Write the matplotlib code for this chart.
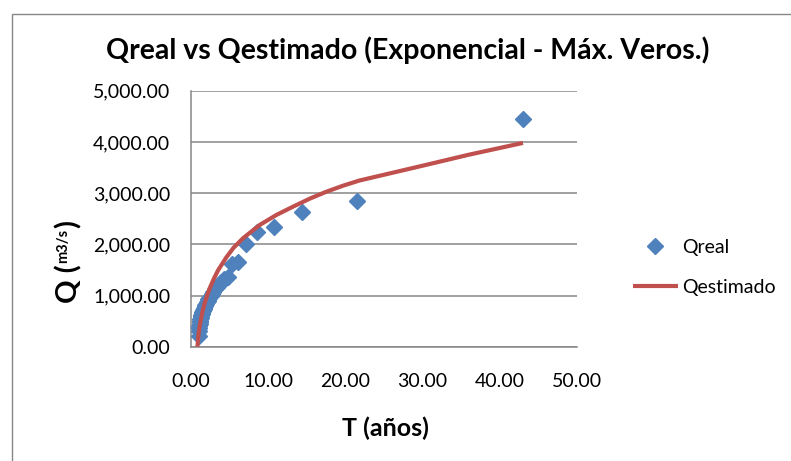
import matplotlib
matplotlib.use("Agg")
from matplotlib import pyplot as plt
from matplotlib.patches import Rectangle
from matplotlib.ticker import FuncFormatter

# observed flows, return period T = (n+1)/m (years), Q in m3/s
t_real = [43.0, 21.5, 14.33, 10.75, 8.6, 7.17, 6.14, 5.375, 4.78, 4.3, 3.91,
          3.58, 3.31, 3.07, 2.87, 2.69, 2.53, 2.39, 2.26, 2.15, 2.05, 1.95,
          1.87, 1.79, 1.72, 1.65, 1.59, 1.54, 1.48, 1.43, 1.39, 1.34, 1.30,
          1.26, 1.23, 1.19, 1.16, 1.13, 1.10, 1.075, 1.049, 1.024]
q_real = [4445, 2846, 2637, 2344, 2246, 2006, 1648, 1609, 1367, 1330, 1270,
          1210, 1160, 1120, 1070, 1030, 1000, 960, 930, 900, 870, 840, 810,
          790, 760, 740, 710, 690, 670, 650, 630, 610, 590, 560, 540, 510,
          480, 450, 410, 370, 300, 200]

# fitted exponential (max likelihood)
t_est = [0.83, 0.9, 1.0, 1.1, 1.25, 1.5, 1.75, 2.0, 2.42, 3.0, 3.5, 4.58,
         5.5, 6.73, 8.89, 11.05, 13.2, 15.36, 17.5, 19.7, 21.8, 30.0, 36.0,
         43.0]
q_est = [0, 110, 270, 380, 510, 690, 840, 960, 1141, 1340, 1490, 1746, 1930,
         2117, 2377, 2572, 2734, 2890, 3025, 3145, 3245, 3535, 3750, 3980]

x_ticks = [0, 10, 20, 30, 40, 50]
y_ticks = [0, 1000, 2000, 3000, 4000, 5000]

plt.rcParams['font.family'] = ['Lato', 'DejaVu Sans']

W, H = 791, 461
fig = plt.figure(figsize=(W / 100, H / 100), dpi=100)
ax = fig.add_axes([191 / W, 1 - 346.7 / H, 386 / W, 256 / H])

grid_c = '#868686'
ax.plot(t_real, q_real, linestyle='none', marker='D', markersize=8,
        color='#4F81BD', label='Qreal', zorder=3)
ax.plot(t_est, q_est, color='#C0504D', linewidth=3, label='Qestimado',
        zorder=4, solid_capstyle='butt', solid_joinstyle='round')

ax.set_xlim(0, 50)
ax.set_ylim(0, 5000)
ax.set_xticks(x_ticks)
ax.set_yticks(y_ticks)
fmt = FuncFormatter(lambda v, p: f'{v:,.2f}')
ax.xaxis.set_major_formatter(fmt)
ax.yaxis.set_major_formatter(fmt)
ax.tick_params(length=0, labelsize=14)
ax.tick_params(axis='x', pad=19)
ax.tick_params(axis='y', pad=15)
ax.grid(axis='y', color=grid_c, linewidth=1.1)
ax.set_axisbelow(True)
for s in ['top', 'right']:
    ax.spines[s].set_visible(False)
for s in ['left', 'bottom']:
    ax.spines[s].set_color(grid_c)
    ax.spines[s].set_linewidth(1.1)

fig.text(408 / W, 1 - 50 / H, 'Qreal vs Qestimado (Exponencial - Máx. Veros.)',
         fontsize=20.5, fontweight='bold', ha='center', va='center')
fig.text(385 / W, 1 - 428 / H, 'T (años)', fontsize=18, fontweight='bold',
         ha='center', va='center')

# y label: "Q (" + small raised "m3/s" + ")"
fig.canvas.draw()
ren = fig.canvas.get_renderer()
base_x = 77 / W
y0 = 1 - 303 / H
kw = dict(rotation=90, rotation_mode='anchor', ha='left', va='baseline',
          fontweight='bold')
t1 = fig.text(base_x, y0, 'Q (', fontsize=21, **kw)
h1 = t1.get_window_extent(ren).height
t2 = fig.text(base_x - 10 / W, y0 + (h1 + 1) / H, 'm3/s', fontsize=10.5, **kw)
h2 = t2.get_window_extent(ren).height
fig.text(base_x, y0 + (h1 + h2 + 2) / H, ')', fontsize=21, **kw)

ax.legend(loc='center left', bbox_to_anchor=(1.1, 0.31), frameon=False,
          fontsize=14, handlelength=2.3, labelspacing=1.2, handletextpad=0.2)

fig.patches.append(Rectangle((12 / W, -0.1), 1.0, 1.1 - 14 / H,
                             transform=fig.transFigure, fill=False,
                             edgecolor='#878787', linewidth=1))

fig.savefig('out.png', dpi=100)
